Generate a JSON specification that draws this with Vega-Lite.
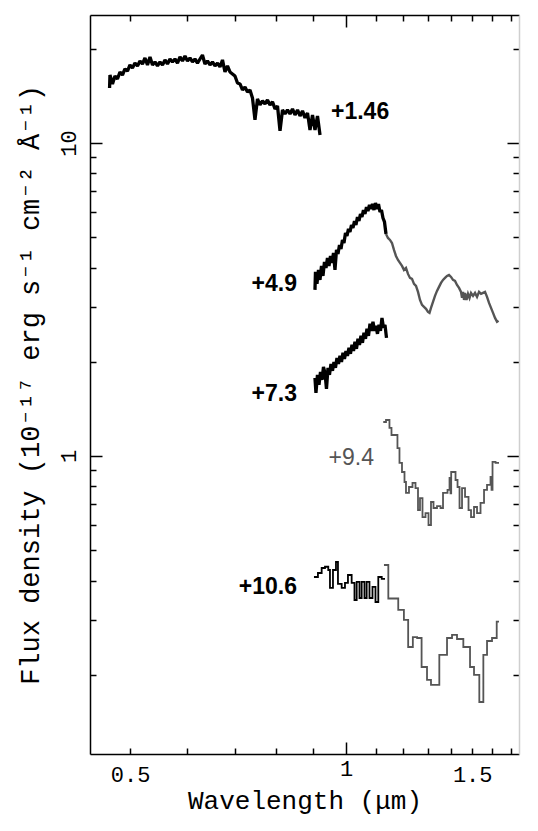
{
  "$schema": "https://vega.github.io/schema/vega-lite/v6.json",
  "autosize": {"type": "none"},
  "width": 429,
  "height": 739,
  "padding": {"left": 90, "top": 15, "right": 19, "bottom": 77},
  "background": "white",
  "config": {"view": {"stroke": null}},
  "datasets": {
    "labels": [
      {"label": "+1.46", "tone": "black", "wl": 0.953, "flux": 12.57},
      {"label": "+4.9", "tone": "black", "wl": 0.8543, "flux": 3.546},
      {"label": "+7.3", "tone": "black", "wl": 0.8543, "flux": 1.578},
      {"label": "+9.4", "tone": "gray", "wl": 1.0941, "flux": 0.9854},
      {"label": "+10.6", "tone": "black", "wl": 0.8543, "flux": 0.3816}
    ],
    "spectra": [
      {"id":"s1","tone":"black","kind":"line","wl":0.4680,"flux":14.98},
      {"id":"s1","tone":"black","kind":"line","wl":0.4686,"flux":16.49},
      {"id":"s1","tone":"black","kind":"line","wl":0.4724,"flux":15.44},
      {"id":"s1","tone":"black","kind":"line","wl":0.4762,"flux":16.37},
      {"id":"s1","tone":"black","kind":"line","wl":0.4800,"flux":16.01},
      {"id":"s1","tone":"black","kind":"line","wl":0.4839,"flux":16.86},
      {"id":"s1","tone":"black","kind":"line","wl":0.4878,"flux":16.49},
      {"id":"s1","tone":"black","kind":"line","wl":0.4917,"flux":17.24},
      {"id":"s1","tone":"black","kind":"line","wl":0.4957,"flux":16.98},
      {"id":"s1","tone":"black","kind":"line","wl":0.4997,"flux":17.75},
      {"id":"s1","tone":"black","kind":"line","wl":0.5037,"flux":17.36},
      {"id":"s1","tone":"black","kind":"line","wl":0.5078,"flux":18.01},
      {"id":"s1","tone":"black","kind":"line","wl":0.5119,"flux":17.62},
      {"id":"s1","tone":"black","kind":"line","wl":0.5160,"flux":18.28},
      {"id":"s1","tone":"black","kind":"line","wl":0.5202,"flux":17.88},
      {"id":"s1","tone":"black","kind":"line","wl":0.5244,"flux":18.69},
      {"id":"s1","tone":"black","kind":"line","wl":0.5286,"flux":17.75},
      {"id":"s1","tone":"black","kind":"line","wl":0.5329,"flux":18.83},
      {"id":"s1","tone":"black","kind":"line","wl":0.5372,"flux":17.75},
      {"id":"s1","tone":"black","kind":"line","wl":0.5415,"flux":18.15},
      {"id":"s1","tone":"black","kind":"line","wl":0.5459,"flux":17.62},
      {"id":"s1","tone":"black","kind":"line","wl":0.5503,"flux":18.15},
      {"id":"s1","tone":"black","kind":"line","wl":0.5547,"flux":17.75},
      {"id":"s1","tone":"black","kind":"line","wl":0.5592,"flux":18.42},
      {"id":"s1","tone":"black","kind":"line","wl":0.5637,"flux":17.88},
      {"id":"s1","tone":"black","kind":"line","wl":0.5682,"flux":18.55},
      {"id":"s1","tone":"black","kind":"line","wl":0.5728,"flux":18.15},
      {"id":"s1","tone":"black","kind":"line","wl":0.5774,"flux":18.55},
      {"id":"s1","tone":"black","kind":"line","wl":0.5821,"flux":18.01},
      {"id":"s1","tone":"black","kind":"line","wl":0.5868,"flux":18.83},
      {"id":"s1","tone":"black","kind":"line","wl":0.5915,"flux":18.28},
      {"id":"s1","tone":"black","kind":"line","wl":0.5963,"flux":18.96},
      {"id":"s1","tone":"black","kind":"line","wl":0.6011,"flux":18.28},
      {"id":"s1","tone":"black","kind":"line","wl":0.6059,"flux":18.69},
      {"id":"s1","tone":"black","kind":"line","wl":0.6108,"flux":18.15},
      {"id":"s1","tone":"black","kind":"line","wl":0.6157,"flux":18.55},
      {"id":"s1","tone":"black","kind":"line","wl":0.6207,"flux":18.01},
      {"id":"s1","tone":"black","kind":"line","wl":0.6257,"flux":18.55},
      {"id":"s1","tone":"black","kind":"line","wl":0.6307,"flux":19.10},
      {"id":"s1","tone":"black","kind":"line","wl":0.6358,"flux":17.88},
      {"id":"s1","tone":"black","kind":"line","wl":0.6409,"flux":18.28},
      {"id":"s1","tone":"black","kind":"line","wl":0.6461,"flux":17.75},
      {"id":"s1","tone":"black","kind":"line","wl":0.6513,"flux":18.15},
      {"id":"s1","tone":"black","kind":"line","wl":0.6566,"flux":17.62},
      {"id":"s1","tone":"black","kind":"line","wl":0.6619,"flux":18.01},
      {"id":"s1","tone":"black","kind":"line","wl":0.6672,"flux":17.49},
      {"id":"s1","tone":"black","kind":"line","wl":0.6726,"flux":18.42},
      {"id":"s1","tone":"black","kind":"line","wl":0.6780,"flux":16.86},
      {"id":"s1","tone":"black","kind":"line","wl":0.6835,"flux":17.62},
      {"id":"s1","tone":"black","kind":"line","wl":0.6890,"flux":16.86},
      {"id":"s1","tone":"black","kind":"line","wl":0.6945,"flux":16.62},
      {"id":"s1","tone":"black","kind":"line","wl":0.7001,"flux":16.37},
      {"id":"s1","tone":"black","kind":"line","wl":0.7058,"flux":15.55},
      {"id":"s1","tone":"black","kind":"line","wl":0.7115,"flux":15.44},
      {"id":"s1","tone":"black","kind":"line","wl":0.7172,"flux":14.77},
      {"id":"s1","tone":"black","kind":"line","wl":0.7230,"flux":15.09},
      {"id":"s1","tone":"black","kind":"line","wl":0.7288,"flux":14.56},
      {"id":"s1","tone":"black","kind":"line","wl":0.7347,"flux":14.77},
      {"id":"s1","tone":"black","kind":"line","wl":0.7406,"flux":13.93},
      {"id":"s1","tone":"black","kind":"line","wl":0.7466,"flux":11.85},
      {"id":"s1","tone":"black","kind":"line","wl":0.7526,"flux":13.83},
      {"id":"s1","tone":"black","kind":"line","wl":0.7587,"flux":13.23},
      {"id":"s1","tone":"black","kind":"line","wl":0.7648,"flux":13.63},
      {"id":"s1","tone":"black","kind":"line","wl":0.7710,"flux":13.33},
      {"id":"s1","tone":"black","kind":"line","wl":0.7772,"flux":13.73},
      {"id":"s1","tone":"black","kind":"line","wl":0.7835,"flux":13.23},
      {"id":"s1","tone":"black","kind":"line","wl":0.7898,"flux":13.53},
      {"id":"s1","tone":"black","kind":"line","wl":0.7962,"flux":12.85},
      {"id":"s1","tone":"black","kind":"line","wl":0.8026,"flux":13.13},
      {"id":"s1","tone":"black","kind":"line","wl":0.8091,"flux":10.93},
      {"id":"s1","tone":"black","kind":"line","wl":0.8156,"flux":12.75},
      {"id":"s1","tone":"black","kind":"line","wl":0.8222,"flux":12.38},
      {"id":"s1","tone":"black","kind":"line","wl":0.8288,"flux":12.75},
      {"id":"s1","tone":"black","kind":"line","wl":0.8355,"flux":12.38},
      {"id":"s1","tone":"black","kind":"line","wl":0.8422,"flux":12.85},
      {"id":"s1","tone":"black","kind":"line","wl":0.8490,"flux":12.29},
      {"id":"s1","tone":"black","kind":"line","wl":0.8559,"flux":12.75},
      {"id":"s1","tone":"black","kind":"line","wl":0.8628,"flux":12.20},
      {"id":"s1","tone":"black","kind":"line","wl":0.8697,"flux":12.66},
      {"id":"s1","tone":"black","kind":"line","wl":0.8767,"flux":12.03},
      {"id":"s1","tone":"black","kind":"line","wl":0.8838,"flux":12.48},
      {"id":"s1","tone":"black","kind":"line","wl":0.8909,"flux":11.01},
      {"id":"s1","tone":"black","kind":"line","wl":0.8981,"flux":12.29},
      {"id":"s1","tone":"black","kind":"line","wl":0.9053,"flux":11.01},
      {"id":"s1","tone":"black","kind":"line","wl":0.9126,"flux":12.20},
      {"id":"s1","tone":"black","kind":"line","wl":0.9200,"flux":10.61},

      {"id":"s2b","tone":"black","kind":"line","wl":0.9052,"flux":3.393},
      {"id":"s2b","tone":"black","kind":"line","wl":0.9067,"flux":3.874},
      {"id":"s2b","tone":"black","kind":"line","wl":0.9110,"flux":3.546},
      {"id":"s2b","tone":"black","kind":"line","wl":0.9155,"flux":3.931},
      {"id":"s2b","tone":"black","kind":"line","wl":0.9199,"flux":3.652},
      {"id":"s2b","tone":"black","kind":"line","wl":0.9244,"flux":4.048},
      {"id":"s2b","tone":"black","kind":"line","wl":0.9288,"flux":3.762},
      {"id":"s2b","tone":"black","kind":"line","wl":0.9333,"flux":4.169},
      {"id":"s2b","tone":"black","kind":"line","wl":0.9378,"flux":3.990},
      {"id":"s2b","tone":"black","kind":"line","wl":0.9423,"flux":4.294},
      {"id":"s2b","tone":"black","kind":"line","wl":0.9469,"flux":4.048},
      {"id":"s2b","tone":"black","kind":"line","wl":0.9515,"flux":4.356},
      {"id":"s2b","tone":"black","kind":"line","wl":0.9561,"flux":4.139},
      {"id":"s2b","tone":"black","kind":"line","wl":0.9607,"flux":4.454},
      {"id":"s2b","tone":"black","kind":"line","wl":0.9653,"flux":3.931},
      {"id":"s2b","tone":"black","kind":"line","wl":0.9700,"flux":4.553},
      {"id":"s2b","tone":"black","kind":"line","wl":0.9746,"flux":4.421},
      {"id":"s2b","tone":"black","kind":"line","wl":0.9794,"flux":4.723},
      {"id":"s2b","tone":"black","kind":"line","wl":0.9841,"flux":4.586},
      {"id":"s2b","tone":"black","kind":"line","wl":0.9888,"flux":4.900},
      {"id":"s2b","tone":"black","kind":"line","wl":0.9936,"flux":4.793},
      {"id":"s2b","tone":"black","kind":"line","wl":0.9984,"flux":5.159},
      {"id":"s2b","tone":"black","kind":"line","wl":1.0032,"flux":5.047},
      {"id":"s2b","tone":"black","kind":"line","wl":1.0081,"flux":5.313},
      {"id":"s2b","tone":"black","kind":"line","wl":1.0129,"flux":5.196},
      {"id":"s2b","tone":"black","kind":"line","wl":1.0178,"flux":5.471},
      {"id":"s2b","tone":"black","kind":"line","wl":1.0227,"flux":5.350},
      {"id":"s2b","tone":"black","kind":"line","wl":1.0277,"flux":5.634},
      {"id":"s2b","tone":"black","kind":"line","wl":1.0326,"flux":5.471},
      {"id":"s2b","tone":"black","kind":"line","wl":1.0376,"flux":5.803},
      {"id":"s2b","tone":"black","kind":"line","wl":1.0426,"flux":5.634},
      {"id":"s2b","tone":"black","kind":"line","wl":1.0476,"flux":5.932},
      {"id":"s2b","tone":"black","kind":"line","wl":1.0527,"flux":5.803},
      {"id":"s2b","tone":"black","kind":"line","wl":1.0578,"flux":6.109},
      {"id":"s2b","tone":"black","kind":"line","wl":1.0629,"flux":5.932},
      {"id":"s2b","tone":"black","kind":"line","wl":1.0681,"flux":6.244},
      {"id":"s2b","tone":"black","kind":"line","wl":1.0732,"flux":6.064},
      {"id":"s2b","tone":"black","kind":"line","wl":1.0784,"flux":6.338},
      {"id":"s2b","tone":"black","kind":"line","wl":1.0836,"flux":6.154},
      {"id":"s2b","tone":"black","kind":"line","wl":1.0889,"flux":6.385},
      {"id":"s2b","tone":"black","kind":"line","wl":1.0941,"flux":6.109},
      {"id":"s2b","tone":"black","kind":"line","wl":1.0994,"flux":6.432},
      {"id":"s2b","tone":"black","kind":"line","wl":1.1047,"flux":6.154},
      {"id":"s2b","tone":"black","kind":"line","wl":1.1101,"flux":6.385},
      {"id":"s2b","tone":"black","kind":"line","wl":1.1155,"flux":6.020},
      {"id":"s2b","tone":"black","kind":"line","wl":1.1208,"flux":6.109},
      {"id":"s2b","tone":"black","kind":"line","wl":1.1262,"flux":5.760},
      {"id":"s2b","tone":"black","kind":"line","wl":1.1317,"flux":5.594},
      {"id":"s2b","tone":"black","kind":"line","wl":1.1372,"flux":5.122},

      {"id":"s2g","tone":"gray","kind":"line","wl":1.1372,"flux":5.122},
      {"id":"s2g","tone":"gray","kind":"line","wl":1.1444,"flux":4.974},
      {"id":"s2g","tone":"gray","kind":"line","wl":1.1518,"flux":4.900},
      {"id":"s2g","tone":"gray","kind":"line","wl":1.1592,"flux":4.793},
      {"id":"s2g","tone":"gray","kind":"line","wl":1.1667,"flux":4.553},
      {"id":"s2g","tone":"gray","kind":"line","wl":1.1742,"flux":4.356},
      {"id":"s2g","tone":"gray","kind":"line","wl":1.1818,"flux":4.230},
      {"id":"s2g","tone":"gray","kind":"line","wl":1.1894,"flux":4.139},
      {"id":"s2g","tone":"gray","kind":"line","wl":1.1971,"flux":4.048},
      {"id":"s2g","tone":"gray","kind":"line","wl":1.2048,"flux":3.931},
      {"id":"s2g","tone":"gray","kind":"line","wl":1.2126,"flux":3.990},
      {"id":"s2g","tone":"gray","kind":"line","wl":1.2204,"flux":3.817},
      {"id":"s2g","tone":"gray","kind":"line","wl":1.2283,"flux":3.706},
      {"id":"s2g","tone":"gray","kind":"line","wl":1.2362,"flux":3.679},
      {"id":"s2g","tone":"gray","kind":"line","wl":1.2442,"flux":3.546},
      {"id":"s2g","tone":"gray","kind":"line","wl":1.2522,"flux":3.494},
      {"id":"s2g","tone":"gray","kind":"line","wl":1.2603,"flux":3.344},
      {"id":"s2g","tone":"gray","kind":"line","wl":1.2684,"flux":3.151},
      {"id":"s2g","tone":"gray","kind":"line","wl":1.2766,"flux":3.039},
      {"id":"s2g","tone":"gray","kind":"line","wl":1.2848,"flux":2.996},
      {"id":"s2g","tone":"gray","kind":"line","wl":1.2931,"flux":2.952},
      {"id":"s2g","tone":"gray","kind":"line","wl":1.3014,"flux":2.887},
      {"id":"s2g","tone":"gray","kind":"line","wl":1.3077,"flux":2.866},
      {"id":"s2g","tone":"gray","kind":"line","wl":1.3140,"flux":2.974},
      {"id":"s2g","tone":"gray","kind":"line","wl":1.3225,"flux":3.107},
      {"id":"s2g","tone":"gray","kind":"line","wl":1.3310,"flux":3.247},
      {"id":"s2g","tone":"gray","kind":"line","wl":1.3396,"flux":3.368},
      {"id":"s2g","tone":"gray","kind":"line","wl":1.3483,"flux":3.469},
      {"id":"s2g","tone":"gray","kind":"line","wl":1.3569,"flux":3.572},
      {"id":"s2g","tone":"gray","kind":"line","wl":1.3657,"flux":3.652},
      {"id":"s2g","tone":"gray","kind":"line","wl":1.3745,"flux":3.706},
      {"id":"s2g","tone":"gray","kind":"line","wl":1.3834,"flux":3.760},
      {"id":"s2g","tone":"gray","kind":"line","wl":1.3923,"flux":3.789},
      {"id":"s2g","tone":"gray","kind":"line","wl":1.4013,"flux":3.733},
      {"id":"s2g","tone":"gray","kind":"line","wl":1.4103,"flux":3.652},
      {"id":"s2g","tone":"gray","kind":"line","wl":1.4194,"flux":3.625},
      {"id":"s2g","tone":"gray","kind":"line","wl":1.4285,"flux":3.520},
      {"id":"s2g","tone":"gray","kind":"line","wl":1.4378,"flux":3.443},
      {"id":"s2g","tone":"gray","kind":"line","wl":1.4470,"flux":3.344},
      {"id":"s2g","tone":"gray","kind":"line","wl":1.4517,"flux":3.199},
      {"id":"s2g","tone":"gray","kind":"line","wl":1.4564,"flux":3.344},
      {"id":"s2g","tone":"gray","kind":"line","wl":1.4611,"flux":3.151},
      {"id":"s2g","tone":"gray","kind":"line","wl":1.4658,"flux":3.319},
      {"id":"s2g","tone":"gray","kind":"line","wl":1.4728,"flux":3.151},
      {"id":"s2g","tone":"gray","kind":"line","wl":1.4799,"flux":3.295},
      {"id":"s2g","tone":"gray","kind":"line","wl":1.4871,"flux":3.199},
      {"id":"s2g","tone":"gray","kind":"line","wl":1.4943,"flux":3.319},
      {"id":"s2g","tone":"gray","kind":"line","wl":1.5039,"flux":3.247},
      {"id":"s2g","tone":"gray","kind":"line","wl":1.5136,"flux":3.319},
      {"id":"s2g","tone":"gray","kind":"line","wl":1.5234,"flux":3.223},
      {"id":"s2g","tone":"gray","kind":"line","wl":1.5332,"flux":3.344},
      {"id":"s2g","tone":"gray","kind":"line","wl":1.5431,"flux":3.295},
      {"id":"s2g","tone":"gray","kind":"line","wl":1.5530,"flux":3.319},
      {"id":"s2g","tone":"gray","kind":"line","wl":1.5630,"flux":3.344},
      {"id":"s2g","tone":"gray","kind":"line","wl":1.5731,"flux":3.223},
      {"id":"s2g","tone":"gray","kind":"line","wl":1.5832,"flux":3.084},
      {"id":"s2g","tone":"gray","kind":"line","wl":1.5934,"flux":2.974},
      {"id":"s2g","tone":"gray","kind":"line","wl":1.6037,"flux":2.866},
      {"id":"s2g","tone":"gray","kind":"line","wl":1.6140,"flux":2.762},
      {"id":"s2g","tone":"gray","kind":"line","wl":1.6245,"flux":2.684},
      {"id":"s2g","tone":"gray","kind":"line","wl":1.6323,"flux":2.703},

      {"id":"s3","tone":"black","kind":"line","wl":0.9052,"flux":1.777},
      {"id":"s3","tone":"black","kind":"line","wl":0.9081,"flux":1.592},
      {"id":"s3","tone":"black","kind":"line","wl":0.9125,"flux":1.817},
      {"id":"s3","tone":"black","kind":"line","wl":0.9170,"flux":1.688},
      {"id":"s3","tone":"black","kind":"line","wl":0.9214,"flux":1.857},
      {"id":"s3","tone":"black","kind":"line","wl":0.9259,"flux":1.751},
      {"id":"s3","tone":"black","kind":"line","wl":0.9303,"flux":1.927},
      {"id":"s3","tone":"black","kind":"line","wl":0.9348,"flux":1.844},
      {"id":"s3","tone":"black","kind":"line","wl":0.9393,"flux":1.639},
      {"id":"s3","tone":"black","kind":"line","wl":0.9439,"flux":1.913},
      {"id":"s3","tone":"black","kind":"line","wl":0.9484,"flux":1.817},
      {"id":"s3","tone":"black","kind":"line","wl":0.9530,"flux":1.969},
      {"id":"s3","tone":"black","kind":"line","wl":0.9576,"flux":1.871},
      {"id":"s3","tone":"black","kind":"line","wl":0.9622,"flux":1.998},
      {"id":"s3","tone":"black","kind":"line","wl":0.9668,"flux":1.913},
      {"id":"s3","tone":"black","kind":"line","wl":0.9715,"flux":2.058},
      {"id":"s3","tone":"black","kind":"line","wl":0.9762,"flux":1.969},
      {"id":"s3","tone":"black","kind":"line","wl":0.9809,"flux":2.089},
      {"id":"s3","tone":"black","kind":"line","wl":0.9857,"flux":1.998},
      {"id":"s3","tone":"black","kind":"line","wl":0.9904,"flux":2.136},
      {"id":"s3","tone":"black","kind":"line","wl":0.9952,"flux":2.043},
      {"id":"s3","tone":"black","kind":"line","wl":1.0000,"flux":2.166},
      {"id":"s3","tone":"black","kind":"line","wl":1.0048,"flux":2.089},
      {"id":"s3","tone":"black","kind":"line","wl":1.0097,"flux":2.215},
      {"id":"s3","tone":"black","kind":"line","wl":1.0145,"flux":2.120},
      {"id":"s3","tone":"black","kind":"line","wl":1.0195,"flux":2.265},
      {"id":"s3","tone":"black","kind":"line","wl":1.0244,"flux":2.166},
      {"id":"s3","tone":"black","kind":"line","wl":1.0293,"flux":2.317},
      {"id":"s3","tone":"black","kind":"line","wl":1.0343,"flux":2.199},
      {"id":"s3","tone":"black","kind":"line","wl":1.0393,"flux":2.368},
      {"id":"s3","tone":"black","kind":"line","wl":1.0443,"flux":2.265},
      {"id":"s3","tone":"black","kind":"line","wl":1.0494,"flux":2.420},
      {"id":"s3","tone":"black","kind":"line","wl":1.0544,"flux":2.299},
      {"id":"s3","tone":"black","kind":"line","wl":1.0595,"flux":2.475},
      {"id":"s3","tone":"black","kind":"line","wl":1.0647,"flux":2.368},
      {"id":"s3","tone":"black","kind":"line","wl":1.0698,"flux":2.548},
      {"id":"s3","tone":"black","kind":"line","wl":1.0750,"flux":2.420},
      {"id":"s3","tone":"black","kind":"line","wl":1.0802,"flux":2.644},
      {"id":"s3","tone":"black","kind":"line","wl":1.0854,"flux":2.510},
      {"id":"s3","tone":"black","kind":"line","wl":1.0906,"flux":2.684},
      {"id":"s3","tone":"black","kind":"line","wl":1.0959,"flux":2.510},
      {"id":"s3","tone":"black","kind":"line","wl":1.1012,"flux":2.605},
      {"id":"s3","tone":"black","kind":"line","wl":1.1065,"flux":2.456},
      {"id":"s3","tone":"black","kind":"line","wl":1.1119,"flux":2.624},
      {"id":"s3","tone":"black","kind":"line","wl":1.1172,"flux":2.510},
      {"id":"s3","tone":"black","kind":"line","wl":1.1226,"flux":2.762},
      {"id":"s3","tone":"black","kind":"line","wl":1.1281,"flux":2.567},
      {"id":"s3","tone":"black","kind":"line","wl":1.1335,"flux":2.624},
      {"id":"s3","tone":"black","kind":"line","wl":1.1390,"flux":2.385},

      {"id":"s4","tone":"gray","kind":"step","wl":1.1272,"flux":1.284},
      {"id":"s4","tone":"gray","kind":"step","wl":1.1372,"flux":1.303},
      {"id":"s4","tone":"gray","kind":"step","wl":1.1499,"flux":1.229},
      {"id":"s4","tone":"gray","kind":"step","wl":1.1574,"flux":1.167},
      {"id":"s4","tone":"gray","kind":"step","wl":1.1798,"flux":1.060},
      {"id":"s4","tone":"gray","kind":"step","wl":1.1875,"flux":0.950},
      {"id":"s4","tone":"gray","kind":"step","wl":1.1971,"flux":0.889},
      {"id":"s4","tone":"gray","kind":"step","wl":1.2068,"flux":0.826},
      {"id":"s4","tone":"gray","kind":"step","wl":1.2126,"flux":0.762},
      {"id":"s4","tone":"gray","kind":"step","wl":1.2243,"flux":0.796},
      {"id":"s4","tone":"gray","kind":"step","wl":1.2382,"flux":0.820},
      {"id":"s4","tone":"gray","kind":"step","wl":1.2502,"flux":0.790},
      {"id":"s4","tone":"gray","kind":"step","wl":1.2603,"flux":0.672},
      {"id":"s4","tone":"gray","kind":"step","wl":1.2684,"flux":0.734},
      {"id":"s4","tone":"gray","kind":"step","wl":1.2786,"flux":0.638},
      {"id":"s4","tone":"gray","kind":"step","wl":1.2910,"flux":0.657},
      {"id":"s4","tone":"gray","kind":"step","wl":1.3035,"flux":0.602},
      {"id":"s4","tone":"gray","kind":"step","wl":1.3140,"flux":0.713},
      {"id":"s4","tone":"gray","kind":"step","wl":1.3246,"flux":0.682},
      {"id":"s4","tone":"gray","kind":"step","wl":1.3396,"flux":0.692},
      {"id":"s4","tone":"gray","kind":"step","wl":1.3548,"flux":0.682},
      {"id":"s4","tone":"gray","kind":"step","wl":1.3657,"flux":0.762},
      {"id":"s4","tone":"gray","kind":"step","wl":1.3856,"flux":0.779},
      {"id":"s4","tone":"gray","kind":"step","wl":1.3946,"flux":0.851},
      {"id":"s4","tone":"gray","kind":"step","wl":1.3990,"flux":0.760},
      {"id":"s4","tone":"gray","kind":"step","wl":1.4020,"flux":0.889},
      {"id":"s4","tone":"gray","kind":"step","wl":1.4217,"flux":0.838},
      {"id":"s4","tone":"gray","kind":"step","wl":1.4309,"flux":0.796},
      {"id":"s4","tone":"gray","kind":"step","wl":1.4401,"flux":0.682},
      {"id":"s4","tone":"gray","kind":"step","wl":1.4517,"flux":0.790},
      {"id":"s4","tone":"gray","kind":"step","wl":1.4658,"flux":0.740},
      {"id":"s4","tone":"gray","kind":"step","wl":1.4823,"flux":0.672},
      {"id":"s4","tone":"gray","kind":"step","wl":1.4943,"flux":0.638},
      {"id":"s4","tone":"gray","kind":"step","wl":1.5087,"flux":0.687},
      {"id":"s4","tone":"gray","kind":"step","wl":1.5234,"flux":0.657},
      {"id":"s4","tone":"gray","kind":"step","wl":1.5406,"flux":0.708},
      {"id":"s4","tone":"gray","kind":"step","wl":1.5580,"flux":0.779},
      {"id":"s4","tone":"gray","kind":"step","wl":1.5731,"flux":0.808},
      {"id":"s4","tone":"gray","kind":"step","wl":1.5908,"flux":0.857},
      {"id":"s4","tone":"gray","kind":"step","wl":1.5960,"flux":0.780},
      {"id":"s4","tone":"gray","kind":"step","wl":1.6011,"flux":0.957},
      {"id":"s4","tone":"gray","kind":"step","wl":1.6166,"flux":0.950},
      {"id":"s4","tone":"gray","kind":"step","wl":1.6349,"flux":0.950},

      {"id":"s5b","tone":"black","kind":"step","wl":0.9023,"flux":0.4106},
      {"id":"s5b","tone":"black","kind":"step","wl":0.9139,"flux":0.4228},
      {"id":"s5b","tone":"black","kind":"step","wl":0.9249,"flux":0.4386},
      {"id":"s5b","tone":"black","kind":"step","wl":0.9348,"flux":0.4428},
      {"id":"s5b","tone":"black","kind":"step","wl":0.9447,"flux":0.4323},
      {"id":"s5b","tone":"black","kind":"step","wl":0.9499,"flux":0.3788},
      {"id":"s5b","tone":"black","kind":"step","wl":0.9591,"flux":0.4323},
      {"id":"s5b","tone":"black","kind":"step","wl":0.9684,"flux":0.4585},
      {"id":"s5b","tone":"black","kind":"step","wl":0.9746,"flux":0.3902},
      {"id":"s5b","tone":"black","kind":"step","wl":0.9863,"flux":0.3788},
      {"id":"s5b","tone":"black","kind":"step","wl":0.9968,"flux":0.3930},
      {"id":"s5b","tone":"black","kind":"step","wl":1.0064,"flux":0.4167},
      {"id":"s5b","tone":"black","kind":"step","wl":1.0184,"flux":0.3930},
      {"id":"s5b","tone":"black","kind":"step","wl":1.0277,"flux":0.3467},
      {"id":"s5b","tone":"black","kind":"step","wl":1.0350,"flux":0.3959},
      {"id":"s5b","tone":"black","kind":"step","wl":1.0443,"flux":0.3518},
      {"id":"s5b","tone":"black","kind":"step","wl":1.0517,"flux":0.3959},
      {"id":"s5b","tone":"black","kind":"step","wl":1.0612,"flux":0.3518},
      {"id":"s5b","tone":"black","kind":"step","wl":1.0687,"flux":0.3959},
      {"id":"s5b","tone":"black","kind":"step","wl":1.0784,"flux":0.3518},
      {"id":"s5b","tone":"black","kind":"step","wl":1.0889,"flux":0.3816},
      {"id":"s5b","tone":"black","kind":"step","wl":1.0994,"flux":0.3416},
      {"id":"s5b","tone":"black","kind":"step","wl":1.1094,"flux":0.4106},
      {"id":"s5b","tone":"black","kind":"step","wl":1.1217,"flux":0.4047},
      {"id":"s5b","tone":"black","kind":"step","wl":1.1335,"flux":0.4047},

      {"id":"s5g","tone":"gray","kind":"step","wl":1.1298,"flux":0.4484},
      {"id":"s5g","tone":"gray","kind":"step","wl":1.1457,"flux":0.3505},
      {"id":"s5g","tone":"gray","kind":"step","wl":1.1828,"flux":0.3222},
      {"id":"s5g","tone":"gray","kind":"step","wl":1.2045,"flux":0.2994},
      {"id":"s5g","tone":"gray","kind":"step","wl":1.2211,"flux":0.2453},
      {"id":"s5g","tone":"gray","kind":"step","wl":1.2396,"flux":0.2640},
      {"id":"s5g","tone":"gray","kind":"step","wl":1.2568,"flux":0.2621},
      {"id":"s5g","tone":"gray","kind":"step","wl":1.2749,"flux":0.2118},
      {"id":"s5g","tone":"gray","kind":"step","wl":1.2973,"flux":0.1926},
      {"id":"s5g","tone":"gray","kind":"step","wl":1.3140,"flux":0.1857},
      {"id":"s5g","tone":"gray","kind":"step","wl":1.3496,"flux":0.2315},
      {"id":"s5g","tone":"gray","kind":"step","wl":1.3834,"flux":0.2621},
      {"id":"s5g","tone":"gray","kind":"step","wl":1.4058,"flux":0.2681},
      {"id":"s5g","tone":"gray","kind":"step","wl":1.4285,"flux":0.2602},
      {"id":"s5g","tone":"gray","kind":"step","wl":1.4578,"flux":0.2453},
      {"id":"s5g","tone":"gray","kind":"step","wl":1.4895,"flux":0.2118},
      {"id":"s5g","tone":"gray","kind":"step","wl":1.5087,"flux":0.1998},
      {"id":"s5g","tone":"gray","kind":"step","wl":1.5346,"flux":0.1637},
      {"id":"s5g","tone":"gray","kind":"step","wl":1.5546,"flux":0.2315},
      {"id":"s5g","tone":"gray","kind":"step","wl":1.5731,"flux":0.2564},
      {"id":"s5g","tone":"gray","kind":"step","wl":1.5985,"flux":0.2621},
      {"id":"s5g","tone":"gray","kind":"step","wl":1.6228,"flux":0.2955},
      {"id":"s5g","tone":"gray","kind":"step","wl":1.6349,"flux":0.2955}
    ]
  },
  "resolve": {"axis": {"x": "independent", "y": "independent"}},
  "layer": [
    {
      "data": {"name": "spectra"},
      "transform": [{"filter": "datum.kind == 'line' && datum.tone == 'black'"}],
      "mark": {"type": "line", "strokeWidth": 3.3, "interpolate": "linear", "strokeJoin": "bevel"},
      "encoding": {
        "x": {"field": "wl", "type": "quantitative",
          "scale": {"type": "log", "domain": [0.4395, 1.7432], "nice": false, "zero": false},
          "axis": {"orient": "bottom", "values": [0.5,0.6,0.7,0.8,0.9,1,1.1,1.2,1.3,1.4,1.5,1.6,1.7],
            "labelExpr": "datum.value == 0.5 ? '0.5' : datum.value == 1 ? '1' : datum.value == 1.5 ? '1.5' : ''",
            "tickSize": {"condition": {"test": "datum.value == 1", "value": -12}, "value": -6},
            "tickColor": "#000", "tickWidth": 1.5, "domainColor": "#000", "domainWidth": 1.5,
            "labelFont": "Liberation Mono", "labelFontSize": 22, "labelColor": "#000", "labelPadding": 16,
            "labelBaseline": "top", "labelFlush": false, "labelOverlap": false, "grid": false,
            "title": "Wavelength (μm)", "titleFont": "Liberation Mono", "titleFontSize": 26,
            "titleFontWeight": "normal", "titleColor": "#000", "titlePadding": 2}},
        "y": {"field": "flux", "type": "quantitative",
          "scale": {"type": "log", "domain": [0.11166, 25.64], "nice": false, "zero": false},
          "axis": {"orient": "left", "values": [0.2,0.3,0.4,0.5,0.6,0.7,0.8,0.9,1,2,3,4,5,6,7,8,9,10,20],
            "labelExpr": "datum.value == 1 ? '1' : datum.value == 10 ? '10' : ''",
            "tickSize": {"condition": {"test": "datum.value == 1 || datum.value == 10", "value": -12}, "value": -6},
            "tickColor": "#000", "tickWidth": 1.5, "domainColor": "#000", "domainWidth": 1.5,
            "labelFont": "Liberation Mono", "labelFontSize": 22, "labelColor": "#000", "labelPadding": 22,
            "labelAngle": -90, "labelAlign": "center", "labelBaseline": "bottom",
            "labelFlush": false, "labelOverlap": false, "grid": false,
            "title": "Flux density (10⁻¹⁷ erg s⁻¹ cm⁻² Å⁻¹)", "titleFont": "Liberation Mono, DejaVu Sans Mono",
            "titleFontSize": 27, "titleFontWeight": "normal", "titleColor": "#000", "titlePadding": 7}},
        "detail": {"field": "id"},
        "color": {"field": "tone", "type": "nominal",
          "scale": {"domain": ["black", "gray"], "range": ["#000000", "#555555"]}, "legend": null}
      }
    },
    {
      "data": {"name": "spectra"},
      "transform": [{"filter": "datum.kind == 'line' && datum.tone == 'gray'"}],
      "mark": {"type": "line", "strokeWidth": 2.4, "interpolate": "linear"},
      "encoding": {
        "x": {"field": "wl", "type": "quantitative",
          "scale": {"type": "log", "domain": [0.4395, 1.7432], "nice": false, "zero": false}, "axis": null},
        "y": {"field": "flux", "type": "quantitative",
          "scale": {"type": "log", "domain": [0.11166, 25.64], "nice": false, "zero": false}, "axis": null},
        "detail": {"field": "id"},
        "color": {"field": "tone", "type": "nominal",
          "scale": {"domain": ["black", "gray"], "range": ["#000000", "#555555"]}, "legend": null}
      }
    },
    {
      "data": {"name": "spectra"},
      "transform": [{"filter": "datum.kind == 'step'"}],
      "mark": {"type": "line", "strokeWidth": 1.8, "interpolate": "step-after"},
      "encoding": {
        "x": {"field": "wl", "type": "quantitative",
          "scale": {"type": "log", "domain": [0.4395, 1.7432], "nice": false, "zero": false}, "axis": null},
        "y": {"field": "flux", "type": "quantitative",
          "scale": {"type": "log", "domain": [0.11166, 25.64], "nice": false, "zero": false}, "axis": null},
        "detail": {"field": "id"},
        "color": {"field": "tone", "type": "nominal",
          "scale": {"domain": ["black", "gray"], "range": ["#000000", "#555555"]}, "legend": null}
      }
    },
    {
      "data": {"name": "labels"},
      "transform": [{"filter": "datum.label == '+1.46'"}],
      "mark": {"type": "text", "align": "left", "baseline": "middle", "font": "Liberation Sans", "fontSize": 23, "fontWeight": "bold"},
      "encoding": {
        "x": {"field": "wl", "type": "quantitative",
          "scale": {"type": "log", "domain": [0.4395, 1.7432], "nice": false, "zero": false},
          "axis": {"orient": "top", "values": [0.5,0.6,0.7,0.8,0.9,1,1.1,1.2,1.3,1.4,1.5,1.6,1.7],
            "labels": false, "title": null, "grid": false,
            "tickSize": {"condition": {"test": "datum.value == 1", "value": -12}, "value": -6},
            "tickColor": "#000", "tickWidth": 1.5, "domainColor": "#000", "domainWidth": 1.5}},
        "y": {"field": "flux", "type": "quantitative",
          "scale": {"type": "log", "domain": [0.11166, 25.64], "nice": false, "zero": false},
          "axis": {"orient": "right", "values": [0.2,0.3,0.4,0.5,0.6,0.7,0.8,0.9,1,2,3,4,5,6,7,8,9,10,20],
            "labels": false, "title": null, "grid": false,
            "tickSize": {"condition": {"test": "datum.value == 1 || datum.value == 10", "value": -12}, "value": -6},
            "tickColor": "#000", "tickWidth": 1.5, "domainColor": "#cfcfcf", "domainWidth": 1.5}},
        "text": {"field": "label"},
        "color": {"field": "tone", "type": "nominal",
          "scale": {"domain": ["black", "gray"], "range": ["#000000", "#555555"]}, "legend": null}
      }
    },
    {
      "data": {"name": "labels"},
      "transform": [{"filter": "datum.label != '+1.46' && datum.label != '+9.4'"}],
      "mark": {"type": "text", "align": "right", "baseline": "middle", "font": "Liberation Sans", "fontSize": 23, "fontWeight": "bold"},
      "encoding": {
        "x": {"field": "wl", "type": "quantitative",
          "scale": {"type": "log", "domain": [0.4395, 1.7432], "nice": false, "zero": false}, "axis": null},
        "y": {"field": "flux", "type": "quantitative",
          "scale": {"type": "log", "domain": [0.11166, 25.64], "nice": false, "zero": false}, "axis": null},
        "text": {"field": "label"},
        "color": {"field": "tone", "type": "nominal",
          "scale": {"domain": ["black", "gray"], "range": ["#000000", "#555555"]}, "legend": null}
      }
    },
    {
      "data": {"name": "labels"},
      "transform": [{"filter": "datum.label == '+9.4'"}],
      "mark": {"type": "text", "align": "right", "baseline": "middle", "font": "Liberation Sans", "fontSize": 23, "fontWeight": "normal"},
      "encoding": {
        "x": {"field": "wl", "type": "quantitative",
          "scale": {"type": "log", "domain": [0.4395, 1.7432], "nice": false, "zero": false}, "axis": null},
        "y": {"field": "flux", "type": "quantitative",
          "scale": {"type": "log", "domain": [0.11166, 25.64], "nice": false, "zero": false}, "axis": null},
        "text": {"field": "label"},
        "color": {"field": "tone", "type": "nominal",
          "scale": {"domain": ["black", "gray"], "range": ["#000000", "#555555"]}, "legend": null}
      }
    }
  ]
}
